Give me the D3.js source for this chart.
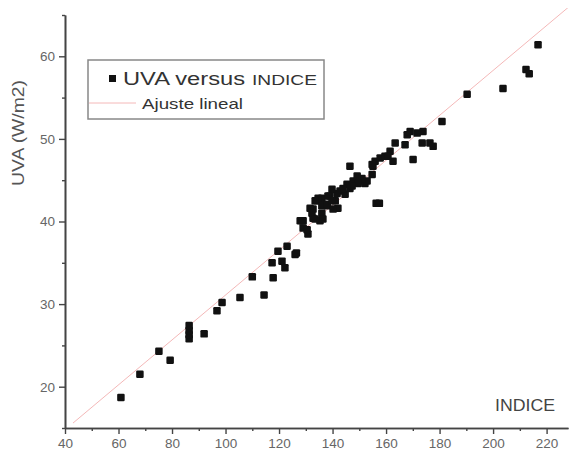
<!DOCTYPE html>
<html><head><meta charset="utf-8">
<script src="https://cdn.jsdelivr.net/npm/d3@7"></script>
<style>
body{margin:0;background:#fff;}
svg{display:block;font-family:"Liberation Sans",Arial,sans-serif;}
</style></head>
<body><svg id="c" width="571" height="455"></svg>
<script>
const indice = [60.9,68,75.1,79.3,86.4,86.4,86.4,86.4,92,96.8,98.7,105.4,110,114.4,
117.8,117.4,121.1,122.2,119.6,123,126,127.9,129,130.8,132.7,132.7,134.2,136,136,135.3,
138,139,141,142,142.8,144.7,146.5,147.7,149.2,150.3,152.1,146.5,154.8,155.1,156.3,157.5,
155.9,157.8,159.6,161.5,162.6,163.4,167.1,167.9,169,170.1,171.6,173.5,173.8,176.4,177.6,
180.9,190.3,203.7,212.3,213.5,216.8,
160.7,154.8,152.9,151,149.5,147.3,145.4,143.9,141.7,139.8,138.3,134.6,133.5,136,137.9,
139.8,132.3,133.5,136.4,140.2,131.6,129,126.5,128.6,130.5];
const uva = [18.7,21.5,24.3,23.2,25.8,26.3,26.8,27.4,26.4,29.2,30.2,30.8,33.3,31.1,
33.2,35.0,35.2,34.4,36.4,37.0,36.0,40.1,39.2,38.5,40.4,41.5,42.5,42.8,41.0,40.1,
41.9,43.1,42.5,41.6,43.7,43.3,44.0,44.9,45.5,44.9,44.6,46.7,45.7,46.7,42.2,42.2,
47.3,47.7,47.9,48.5,47.3,49.5,49.3,50.5,50.9,47.5,50.7,49.5,50.9,49.5,49.1,
52.1,55.4,56.1,58.4,57.9,61.4,
47.9,46.9,44.9,45.2,44.6,44.3,44.5,44.0,43.4,43.9,43.1,42.8,42.5,41.9,42.1,
42.5,41.0,40.3,40.3,41.5,41.6,40.1,36.2,40.1,39.0];
const fitIndice = [43, 228];
const fitUva = [15.6, 65.9];
const xTicks = [40,60,80,100,120,140,160,180,200,220];
const xMinor = [50,70,90,110,130,150,170,190,210];
const yTicks = [20,30,40,50,60];
const yMinor = [15,25,35,45,55,65];

const svg = d3.select("#c");
const x = d3.scaleLinear().domain([40,228]).range([65,568]);
const y = d3.scaleLinear().domain([15,65]).range([428,15]);

svg.append("clipPath").attr("id","clip").append("rect")
  .attr("x",65).attr("y",8).attr("width",506).attr("height",420);

// fit line
svg.append("path").attr("clip-path","url(#clip)")
  .datum(fitIndice.map((d,i)=>[d,fitUva[i]]))
  .attr("d", d3.line().x(d=>x(d[0])).y(d=>y(d[1])))
  .attr("stroke","#f4b8b8").attr("stroke-width",1).attr("fill","none");

// points
const s = 7.5;
svg.append("g").selectAll("rect").data(indice.map((d,i)=>[d,uva[i]])).join("rect")
  .attr("x",d=>x(d[0])-s/2).attr("y",d=>y(d[1])-s/2)
  .attr("width",s).attr("height",s).attr("rx",1.2).attr("fill","#111");

// axes
const ax = svg.append("g").attr("transform","translate(0,428)")
  .call(d3.axisBottom(x).tickValues(xTicks).tickSize(6).tickPadding(4).tickSizeOuter(0));
const axm = svg.append("g").attr("transform","translate(0,428)")
  .call(d3.axisBottom(x).tickValues(xMinor).tickSize(3).tickFormat("").tickSizeOuter(0));
const ay = svg.append("g").attr("transform","translate(65,0)")
  .call(d3.axisLeft(y).tickValues(yTicks).tickSize(6).tickPadding(4).tickSizeOuter(0));
const aym = svg.append("g").attr("transform","translate(65,0)")
  .call(d3.axisLeft(y).tickValues(yMinor).tickSize(3).tickFormat("").tickSizeOuter(0));
[ax,axm,ay,aym].forEach(g=>{
  g.selectAll("path").attr("stroke","#444").attr("stroke-width",1.6);
  g.selectAll("line").attr("stroke","#444").attr("stroke-width",1.4);
  g.selectAll("text").attr("fill","#666").attr("font-size",13.5)
   .attr("font-family","'Liberation Sans',Arial,sans-serif");
});

// axis titles
svg.append("text").attr("transform","translate(24,133) rotate(-90)")
  .attr("text-anchor","middle").attr("font-size",16).attr("fill","#555")
  .attr("textLength",106).attr("lengthAdjust","spacingAndGlyphs").text("UVA (W/m2)");
svg.append("text").attr("x",495).attr("y",411).attr("font-size",16).attr("fill","#444")
  .attr("textLength",60).attr("lengthAdjust","spacingAndGlyphs").text("INDICE");

// legend
const lg = svg.append("g");
lg.append("rect").attr("x",88).attr("y",60).attr("width",236).attr("height",59)
  .attr("fill","#fff").attr("stroke","#888").attr("stroke-width",1.5);
lg.append("rect").attr("x",109).attr("y",75).attr("width",7).attr("height",7).attr("fill","#111");
lg.append("text").attr("x",123).attr("y",85).attr("font-size",18).attr("fill","#333")
  .attr("textLength",122).attr("lengthAdjust","spacingAndGlyphs").text("UVA versus");
lg.append("text").attr("x",252).attr("y",85).attr("font-size",15).attr("fill","#333")
  .attr("textLength",65).attr("lengthAdjust","spacingAndGlyphs").text("INDICE");
lg.append("line").attr("x1",89).attr("x2",136).attr("y1",103).attr("y2",103)
  .attr("stroke","#f4b8b8").attr("stroke-width",1);
lg.append("text").attr("x",142).attr("y",109).attr("font-size",15).attr("fill","#333")
  .attr("textLength",101).attr("lengthAdjust","spacingAndGlyphs").text("Ajuste lineal");
</script></body></html>
